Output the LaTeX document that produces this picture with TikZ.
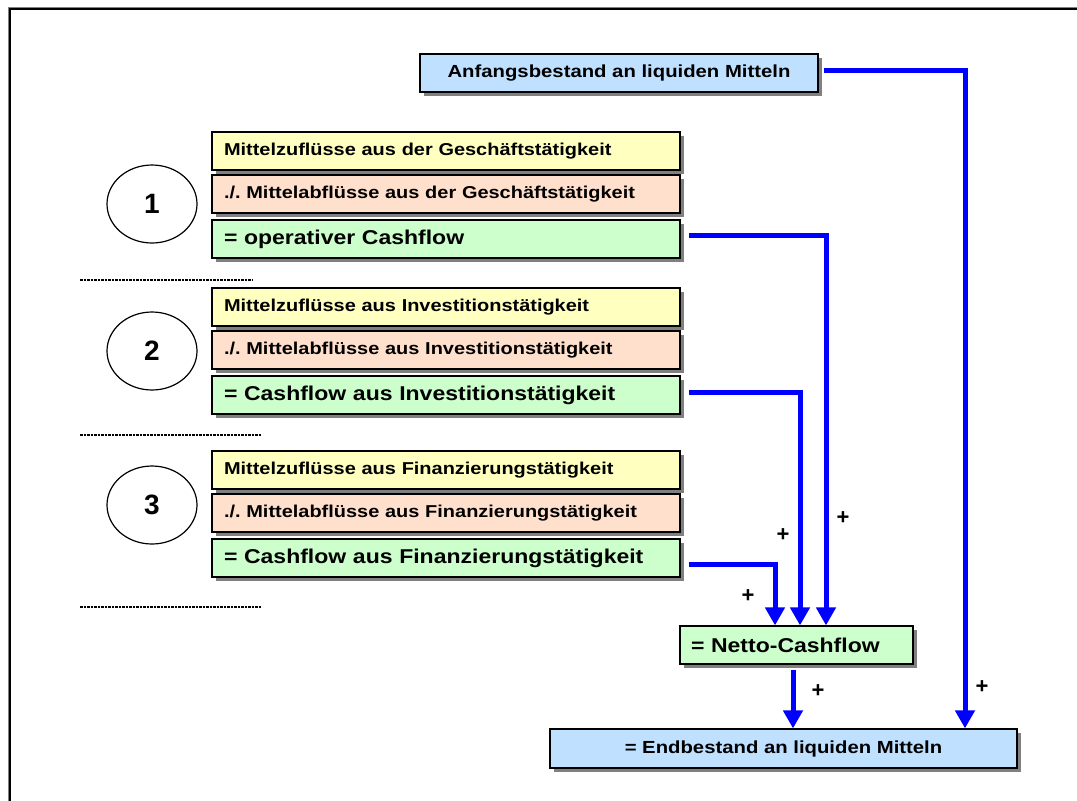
\documentclass[tikz,border=0pt]{standalone}
\usepackage{fontspec}
\setmainfont{Liberation Sans}
\newfontfamily\rowfont[FakeStretch=1.16]{Liberation Sans}
\newfontfamily\resfont[FakeStretch=1.15]{Liberation Sans}
\usetikzlibrary{arrows.meta,shadows,shapes.geometric}

\definecolor{rowin}{RGB}{255,255,192}
\definecolor{rowout}{RGB}{255,224,204}
\definecolor{rowres}{RGB}{204,255,204}
\definecolor{cashbox}{RGB}{192,224,255}
\definecolor{flowblue}{RGB}{0,0,255}
\definecolor{shadowgray}{RGB}{128,128,128}

\tikzset{
  box/.style={draw=black, line width=1.2pt, minimum height=38pt, inner ysep=0pt,
    drop shadow={shadow xshift=4pt, shadow yshift=-4pt, fill=shadowgray, opacity=1}},
  rowbox/.style={box, inner xsep=12pt, text width=444pt, align=left,
    font=\frenchspacing\rowfont\bfseries\fontsize{17.2}{20}\selectfont},
  inrow/.style={rowbox, fill=rowin},
  outrow/.style={rowbox, fill=rowout},
  resrow/.style={rowbox, fill=rowres, font=\resfont\bfseries\fontsize{20}{24}\selectfont},
  cashnode/.style={box, fill=cashbox, inner xsep=0pt, align=center,
    font=\rowfont\bfseries\fontsize{17.5}{20}\selectfont},
  stage/.style={ellipse, draw=black, line width=1.2pt, minimum width=90pt, minimum height=78pt,
    inner sep=0pt, font=\bfseries\fontsize{28}{32}\selectfont},
  flow/.style={draw=flowblue, line width=5pt, line join=miter,
    -{Triangle[width=19pt,length=18pt]}},
  plus/.style={font=\bfseries\fontsize{22}{24}\selectfont, inner sep=0pt},
  divider/.style={black, line width=2.4pt, dash pattern=on 2.5pt off 1pt},
}

\begin{document}
\begin{tikzpicture}[x=1pt, y=-1pt]
  \useasboundingbox (0,0) rectangle (1077,801);

  % page frame
  \draw[shadowgray, line width=1pt] (8,801) -- (8,7) -- (1077,7);
  \draw[black, line width=1.6pt] (9.8,801) -- (9.8,8.8) -- (1077,8.8);

  % opening and closing balances
  \node[cashnode, minimum width=398pt] (anf) at (619,73) {Anfangsbestand an liquiden Mitteln};
  \node[cashnode, minimum width=467pt, minimum height=39pt] (end) at (783.5,748.5) {= Endbestand an liquiden Mitteln};

  % operating activities
  \node[stage] (s1) at (152,204) {1};
  \node[inrow]  (op1) at (446,151) {Mittelzuflüsse aus der Geschäftstätigkeit};
  \node[outrow] (op2) at (446,194) {./. Mittelabflüsse aus der Geschäftstätigkeit};
  \node[resrow] (op)  at (446,239) {= operativer Cashflow};

  % investing activities
  \node[stage] (s2) at (152,351) {2};
  \node[inrow]  (inv1) at (446,307) {Mittelzuflüsse aus Investitionstätigkeit};
  \node[outrow] (inv2) at (446,350) {./. Mittelabflüsse aus Investitionstätigkeit};
  \node[resrow] (inv)  at (446,395) {= Cashflow aus Investitionstätigkeit};

  % financing activities
  \node[stage] (s3) at (152,505) {3};
  \node[inrow]  (fin1) at (446,470) {Mittelzuflüsse aus Finanzierungstätigkeit};
  \node[outrow] (fin2) at (446,513) {./. Mittelabflüsse aus Finanzierungstätigkeit};
  \node[resrow] (fin)  at (446,558) {= Cashflow aus Finanzierungstätigkeit};

  % net cash flow
  \node[box, fill=rowres, inner xsep=11pt, text width=211pt, align=left,
        font=\resfont\bfseries\fontsize{20}{24}\selectfont] (netto) at (796.5,645) {= Netto-Cashflow};

  % section dividers
  \draw[divider] (80,280) -- (253,280);
  \draw[divider] (80,435) -- (262,435);
  \draw[divider] (80,607) -- (262,607);

  % flows into the net cash flow
  \draw[flow] ([xshift=8pt,yshift=4pt]op.east) -| ([xshift=29.5pt]netto.north);
  \draw[flow] ([xshift=8pt,yshift=3pt]inv.east) -| ([xshift=3.5pt]netto.north);
  \draw[flow] ([xshift=8pt,yshift=-6pt]fin.east) -| ([xshift=-21.5pt]netto.north);

  % flows into the closing balance
  \draw[flow] ([xshift=5pt,yshift=3pt]anf.east) -| ([xshift=181.5pt]end.north);
  \draw[flow] ([xshift=-3.5pt,yshift=-5pt]netto.south) -- ([xshift=9.5pt]end.north);

  % signs
  \node[plus] (p1) at (843,518) {+};
  \node[plus] (p2) at (783,535) {+};
  \node[plus] (p3) at (748,596) {+};
  \node[plus] (p4) at (818,691) {+};
  \node[plus] (p5) at (982,687) {+};
\end{tikzpicture}
\end{document}
